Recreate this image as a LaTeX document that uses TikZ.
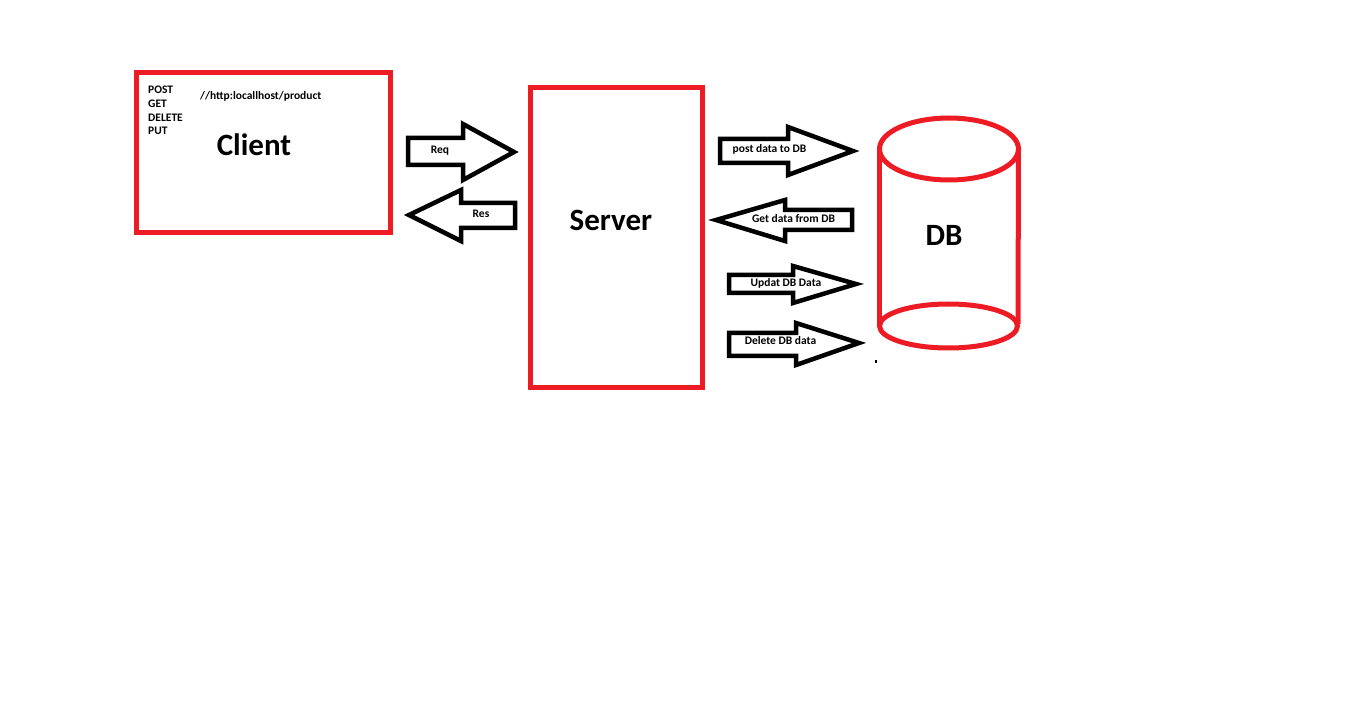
\documentclass[tikz,border=0pt]{standalone}
\usepackage{fontspec}
\setmainfont{Carlito}
\definecolor{pred}{RGB}{237,28,36}
\begin{document}
\begin{tikzpicture}[x=1pt, y=-1pt, line join=miter,
		box/.style={draw=pred, line width=5pt},
		blk/.style={draw=black, line width=4.5pt},
		tiny/.style={font=\bfseries\fontsize{11.5}{13}\selectfont, inner sep=0pt},
		big/.style={font=\bfseries\fontsize{31}{36}\selectfont, inner sep=0pt}]
				\useasboundingbox (0,0) rectangle (1350,719);
				% client
				\draw[box] (136.5,72.5) rectangle (390.5,233);
				\node[tiny, anchor=west] (post) at (148,90) {POST};
				\node[tiny, anchor=west] (get) at (148,104) {GET};
				\node[tiny, anchor=west] (delete) at (148,118) {DELETE};
				\node[tiny, anchor=west] (put) at (148,131) {PUT};
				\node[tiny, anchor=west] (url) at (200,96) {//http:locallhost/product};
				\node[big] (client) at (254,145) {Client};
				% req / res
				\draw[blk] (408,138)--(463,138)--(463,124)--(514,152)--(463,180)--(463,165)--(408,165)--cycle;
				\node[tiny] (req) at (440,151) {Req};
				\draw[blk] (409,215)--(461,190)--(461,203)--(515,203)--(515,228)--(461,228)--(461,241)--cycle;
				\node[tiny] (res) at (481,214) {Res};
				% server
				\draw[box] (530.5,87.5) rectangle (702.5,387.5);
				\node[big] (server) at (611,220) {Server};
				% db arrows
				\draw[blk] (720,139)--(788,139)--(788,127)--(853,151)--(788,175)--(788,163)--(720,163)--cycle;
				\node[tiny] (postdb) at (769.5,149) {post data to DB};
				\draw[blk] (716,220)--(785,200)--(785,210)--(852,210)--(852,230)--(785,230)--(785,241)--cycle;
				\node[tiny] (getdb) at (793.5,219) {Get data from DB};
				\draw[blk] (729,275)--(793,275)--(793,266)--(856,284)--(793,303)--(793,293)--(729,293)--cycle;
				\node[tiny] (updb) at (786,283) {Updat DB Data};
				\draw[blk] (729,333)--(796,333)--(796,323)--(859,343)--(796,365)--(796,356)--(729,356)--cycle;
				\node[tiny] (deldb) at (780.5,341) {Delete DB data};
				\draw[line width=1.5pt] (876,360)--(876,363);
				% db
				\draw[box] (949,149) ellipse [x radius=69.5, y radius=31];
				\draw[box] (948.5,326) ellipse [x radius=69, y radius=22];
				\draw[box] (879.5,147)--(879.5,326);
				\draw[box] (1018.5,147)--(1018,324);
				\node[big] (db) at (944,235) {DB};
		\end{tikzpicture}
\end{document}
